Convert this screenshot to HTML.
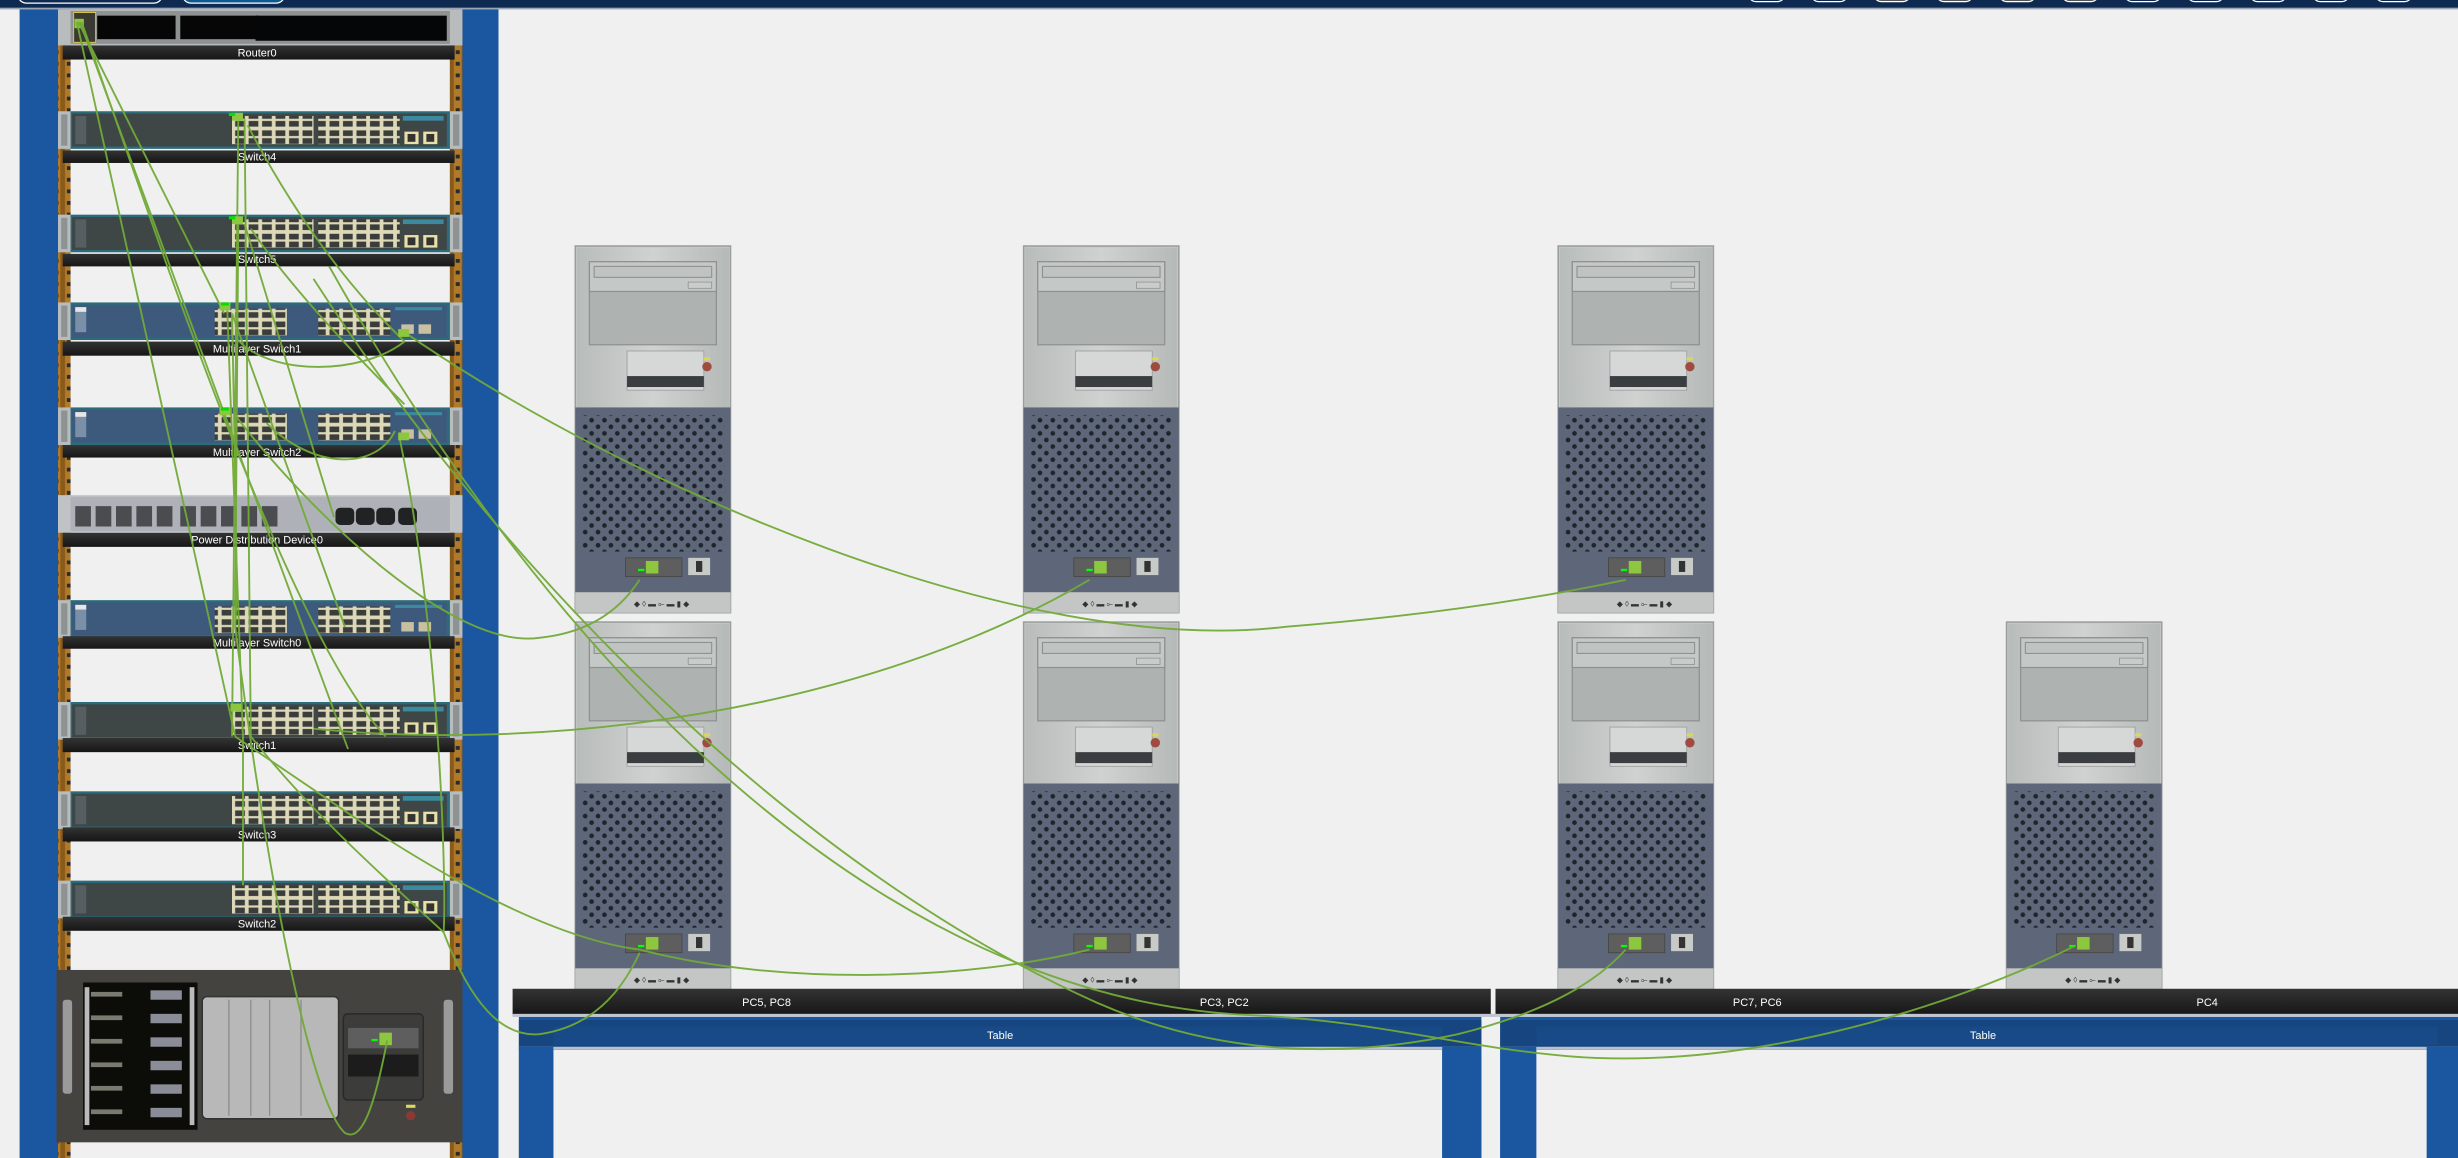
<!DOCTYPE html>
<html><head><meta charset="utf-8"><style>
html,body{margin:0;padding:0;background:#f0f0f0;overflow:hidden}
svg{display:block}
text{font-family:"Liberation Sans",sans-serif;fill:#fff;font-size:7px;text-anchor:middle}
</style></head><body>
<svg width="2458" height="1158" viewBox="0 0 1568 739" preserveAspectRatio="none" xmlns="http://www.w3.org/2000/svg">
<defs>
<pattern id="ports" width="8.6" height="11" patternUnits="userSpaceOnUse">
<rect width="8.6" height="11" fill="#ddd9b8"/>
<rect x="1.2" y="1.2" width="6.2" height="3.6" fill="#3a3d3c"/>
<rect x="1.2" y="6.2" width="6.2" height="3.6" fill="#3a3d3c"/>
</pattern>
<pattern id="grill" width="8.2" height="8.4" patternUnits="userSpaceOnUse">
<circle cx="2.2" cy="2" r="1.5" fill="#1f242b"/>
<circle cx="6.3" cy="6.2" r="1.5" fill="#1f242b"/>
</pattern>
<pattern id="rail" width="8" height="7.4" patternUnits="userSpaceOnUse">
<rect width="8" height="7.4" fill="#8a5a1a"/>
<rect x="1.5" width="5" height="7.4" fill="#b07a2a"/>
<rect x="2.7" y="2.5" width="2.6" height="2.4" fill="#2a2a2a"/>
</pattern>
<linearGradient id="lbl" x1="0" y1="0" x2="0" y2="1"><stop offset="0" stop-color="#333"/><stop offset="1" stop-color="#161616"/></linearGradient>
<linearGradient id="pcg" x1="0" y1="0" x2="1" y2="0"><stop offset="0" stop-color="#b8bcba"/><stop offset=".5" stop-color="#cfd2d0"/><stop offset="1" stop-color="#b5b9b7"/></linearGradient>
<g id="ear">
<rect x="0" y="0" width="8" height="24" fill="#b9bcbc"/><rect x="2" y="2" width="4" height="20" fill="#8e9292"/>
</g>
<g id="sw">
<use href="#ear"/><use href="#ear" x="250"/>
<rect x="8" y="0" width="242" height="24" fill="#2b6b7a"/>
<rect x="9" y="1.5" width="239" height="21" fill="#3f4646"/>
<rect x="11" y="3" width="7" height="18" fill="#555e60"/>
<rect x="111" y="3" width="52" height="18" fill="url(#ports)"/>
<rect x="166" y="3" width="52" height="18" fill="url(#ports)"/>
<rect x="221" y="13" width="9" height="8" fill="#e8e0a8"/><rect x="223" y="14.5" width="5" height="5" fill="#333"/>
<rect x="233" y="13" width="9" height="8" fill="#e8e0a8"/><rect x="235" y="14.5" width="5" height="5" fill="#333"/>
<rect x="220" y="3" width="26" height="3" fill="#3b8aa0"/>
</g>
<g id="ml">
<use href="#ear"/><use href="#ear" x="250"/>
<rect x="8" y="0" width="242" height="24" fill="#2b6b7a"/>
<rect x="9" y="1.5" width="239" height="21" fill="#3d5a7c"/>
<rect x="11" y="3" width="7" height="16" fill="#7a8fa8"/><rect x="11" y="3" width="7" height="3" fill="#e6e6e6"/>
<rect x="100" y="4" width="46" height="17" fill="url(#ports)"/>
<rect x="166" y="4" width="46" height="17" fill="url(#ports)"/>
<rect x="219" y="14" width="8" height="6" fill="#c8c0a0"/><rect x="230" y="14" width="8" height="6" fill="#c8c0a0"/>
<rect x="215" y="3" width="30" height="2" fill="#3b8aa0"/>
</g>
<g id="pc">
<rect x="0" y="0" width="99" height="234" fill="#c7cac8" stroke="#9a9e9c" stroke-width="1"/>
<rect x="1" y="1" width="97" height="102" fill="url(#pcg)"/>
<rect x="9" y="10" width="81" height="53" fill="#aeb3b1" stroke="#8d9290" stroke-width=".8"/>
<rect x="9" y="10" width="81" height="19" fill="#c4c8c6" stroke="#8d9290" stroke-width=".8"/>
<rect x="12" y="13" width="75" height="7" fill="#bfc3c1" stroke="#8d9290" stroke-width=".7"/>
<rect x="72" y="23" width="15" height="4" fill="#c9cccb" stroke="#8d9290" stroke-width=".5"/>
<rect x="33" y="67" width="49" height="25" fill="#d6d8d7" stroke="#999" stroke-width=".5"/>
<rect x="33" y="83" width="49" height="7" fill="#3a3e40"/>
<circle cx="84" cy="77" r="3" fill="#a04a40"/><rect x="82" y="71" width="4" height="2" fill="#d8d860"/>
<rect x="0" y="103" width="99" height="118" fill="#5d6779"/>
<rect x="4" y="108" width="91" height="87" fill="url(#grill)"/>
<rect x="32" y="199" width="36" height="12" fill="#5e5e5e" stroke="#444" stroke-width=".5"/>
<rect x="45" y="201" width="8" height="8" fill="#8dc63f"/><rect x="40" y="206" width="4" height="1.5" fill="#00ff00"/>
<rect x="72" y="199" width="14" height="11" fill="#c8cac8"/><rect x="77" y="201" width="4" height="7" fill="#333"/>
<rect x="0" y="221" width="99" height="13" fill="#c3c6c5"/>
<text x="55" y="230" style="fill:#333;font-size:5px">◆ ◊ ▬ ⟜ ▬ ▮ ◆</text>
</g>
</defs>

<rect x="0" y="0" width="1568" height="5" fill="#0f2a50"/>
<rect x="0" y="5" width="1568" height="1" fill="#9aa6b6"/>
<rect x="12" y="-6" width="91" height="8" rx="5" fill="#0f2a50" stroke="#fff" stroke-width=".8"/>
<rect x="117" y="-6" width="64" height="8" rx="5" fill="#0e5a90" stroke="#fff" stroke-width=".8"/>
<g fill="#0f2a50" stroke="#fff" stroke-width=".8">
<rect x="1116" y="-6" width="22" height="7" rx="4"/><rect x="1156" y="-6" width="22" height="7" rx="4"/><rect x="1196" y="-6" width="22" height="7" rx="4" fill="#555"/><rect x="1236" y="-6" width="22" height="7" rx="4" fill="#555"/><rect x="1276" y="-6" width="22" height="7" rx="4" fill="#555"/><rect x="1316" y="-6" width="22" height="7" rx="4" fill="#555"/><rect x="1356" y="-6" width="22" height="7" rx="4"/><rect x="1396" y="-6" width="22" height="7" rx="4"/><rect x="1436" y="-6" width="22" height="7" rx="4"/><rect x="1476" y="-6" width="22" height="7" rx="4"/><rect x="1516" y="-6" width="22" height="7" rx="4"/>
</g>

<rect x="12.5" y="6" width="305.5" height="733" fill="#1b57a0"/>
<rect x="45" y="6" width="242" height="733" fill="#f0f0f0"/>
<rect x="37" y="6" width="8" height="733" fill="url(#rail)"/>
<rect x="287" y="6" width="8" height="733" fill="url(#rail)"/>

<g>
<rect x="37" y="6" width="258" height="23" fill="#b9bcbc"/>
<rect x="45" y="7" width="242" height="21" fill="#8e9292"/>
<rect x="47" y="8" width="14" height="19" fill="#3a3a32" stroke="#d8c840" stroke-width=".6"/>
<rect x="47.5" y="12" width="6" height="6" fill="#8dc63f"/>
<rect x="62" y="10" width="50" height="15" fill="#060606"/>
<rect x="115" y="10" width="50" height="15" fill="#060606"/>
<rect x="163" y="10" width="122" height="16" fill="#040608"/>
</g>
<rect x="40" y="29" width="250" height="9" fill="url(#lbl)"/><text x="164" y="36">Router0</text>

<use href="#sw" x="37" y="71"/><rect x="40" y="96" width="250" height="8" fill="url(#lbl)"/><text x="164" y="102.5">Switch4</text>
<use href="#sw" x="37" y="137"/><rect x="40" y="162" width="250" height="8" fill="url(#lbl)"/><text x="164" y="168">Switch5</text>
<use href="#ml" x="37" y="193"/><rect x="40" y="218" width="250" height="9" fill="url(#lbl)"/><text x="164" y="225">Multilayer Switch1</text>
<use href="#ml" x="37" y="260"/><rect x="40" y="284" width="250" height="8" fill="url(#lbl)"/><text x="164" y="291">Multilayer Switch2</text>
<g>
<rect x="37" y="316" width="258" height="24" fill="#c0c3c6"/>
<rect x="45" y="317" width="242" height="22" fill="#aeb2b8"/>
<g fill="#4a4c50">
<rect x="48" y="323" width="10" height="13"/><rect x="61" y="323" width="10" height="13"/><rect x="74" y="323" width="10" height="13"/><rect x="87" y="323" width="10" height="13"/><rect x="100" y="323" width="10" height="13"/><rect x="115" y="323" width="10" height="13"/><rect x="128" y="323" width="10" height="13"/><rect x="141" y="323" width="10" height="13"/><rect x="154" y="323" width="10" height="13"/><rect x="167" y="323" width="10" height="13"/>
</g>
<g fill="#202224"><rect x="214" y="324" width="12" height="11" rx="3"/><rect x="227" y="324" width="12" height="11" rx="3"/><rect x="240" y="324" width="12" height="11" rx="3"/><rect x="254" y="324" width="12" height="11" rx="3"/></g>
</g>
<rect x="40" y="340" width="250" height="9" fill="url(#lbl)"/><text x="164" y="347">Power Distribution Device0</text>
<use href="#ml" x="37" y="383"/><rect x="40" y="406" width="250" height="8" fill="url(#lbl)"/><text x="164" y="412.5">Multilayer Switch0</text>
<use href="#sw" x="37" y="448"/><rect x="40" y="471" width="250" height="9" fill="url(#lbl)"/><text x="164" y="478">Switch1</text>
<use href="#sw" x="37" y="505"/><rect x="40" y="528" width="250" height="9" fill="url(#lbl)"/><text x="164" y="535">Switch3</text>
<use href="#sw" x="37" y="562"/><rect x="40" y="585" width="250" height="9" fill="url(#lbl)"/><text x="164" y="592">Switch2</text>

<g>
<rect x="36" y="619" width="259" height="110" fill="#444340"/>
<rect x="40" y="638" width="6" height="60" rx="2" fill="#9a9a9a"/><rect x="283" y="638" width="6" height="60" rx="2" fill="#9a9a9a"/>
<rect x="53" y="627" width="73" height="94" fill="#0c0c08"/>
<g fill="#7a7a70"><rect x="58" y="633" width="20" height="3"/><rect x="58" y="648" width="20" height="3"/><rect x="58" y="663" width="20" height="3"/><rect x="58" y="678" width="20" height="3"/><rect x="58" y="693" width="20" height="3"/><rect x="58" y="708" width="20" height="3"/></g>
<g fill="#8a8c98"><rect x="96" y="632" width="20" height="6"/><rect x="96" y="647" width="20" height="6"/><rect x="96" y="662" width="20" height="6"/><rect x="96" y="677" width="20" height="6"/><rect x="96" y="692" width="20" height="6"/><rect x="96" y="707" width="20" height="6"/></g>
<rect x="54" y="630" width="3" height="88" fill="#bbb"/><rect x="121" y="630" width="3" height="88" fill="#bbb"/>
<rect x="129" y="636" width="87" height="78" rx="3" fill="#b8b8b8" stroke="#333" stroke-width="1"/>
<g stroke="#8a8a8a" stroke-width=".8"><line x1="146" y1="638" x2="146" y2="712"/><line x1="160" y1="638" x2="160" y2="712"/><line x1="172" y1="638" x2="172" y2="712"/><line x1="192" y1="638" x2="192" y2="712"/></g>
<rect x="219" y="647" width="51" height="55" rx="3" fill="#3c3c3a" stroke="#2a2a2a"/>
<rect x="222" y="656" width="45" height="13" fill="#5e5e5e"/>
<rect x="242" y="659" width="8" height="8" fill="#8dc63f"/><rect x="237" y="663" width="4" height="1.5" fill="#00ff00"/>
<rect x="222" y="673" width="45" height="14" fill="#1c1c1c"/>
<rect x="259" y="705" width="6" height="2" fill="#d8d860"/><circle cx="262" cy="712" r="3" fill="#8a3a34"/>
</g>

<use href="#pc" x="367" y="157"/><use href="#pc" x="653" y="157"/><use href="#pc" x="994" y="157"/>
<use href="#pc" x="367" y="397"/><use href="#pc" x="653" y="397"/><use href="#pc" x="994" y="397"/><use href="#pc" x="1280" y="397"/>

<rect x="331" y="648" width="614" height="91" fill="#1b57a0"/>
<rect x="353" y="670" width="567" height="69" fill="#f0f0f0"/>
<rect x="331" y="651" width="614" height="19" fill="#16457f"/>
<rect x="353" y="655" width="567" height="12" fill="#174a86"/>
<rect x="957" y="648" width="611" height="91" fill="#1b57a0"/>
<rect x="980" y="670" width="588" height="69" fill="#f0f0f0"/>
<rect x="957" y="651" width="611" height="19" fill="#16457f"/>
<rect x="980" y="655" width="575" height="12" fill="#174a86"/>
<rect x="331" y="668" width="614" height="2" fill="#b8c0cc"/><rect x="957" y="668" width="611" height="2" fill="#b8c0cc"/>
<rect x="920" y="668" width="25" height="71" fill="#1b57a0"/><rect x="331" y="668" width="22" height="71" fill="#1b57a0"/>
<rect x="957" y="668" width="23" height="71" fill="#1b57a0"/><rect x="1548" y="668" width="20" height="71" fill="#1b57a0"/>
<text x="638" y="663">Table</text><text x="1265" y="663">Table</text>
<rect x="327" y="631" width="624" height="17" fill="url(#lbl)"/>
<rect x="954" y="631" width="614" height="17" fill="url(#lbl)"/>
<rect x="327" y="647" width="1241" height="2" fill="#c0c6d0"/>
<text x="489" y="642">PC5, PC8</text><text x="781" y="642">PC3, PC2</text><text x="1121" y="642">PC7, PC6</text><text x="1408" y="642">PC4</text>

<g fill="none" stroke="#72aa38" stroke-width="1.2" opacity=".95">
<path d="M49,14 L150,470"/>
<path d="M50,14 L143,200"/>
<path d="M51,14 L222,478"/>
<path d="M52,14 C 90,120 180,400 246,470"/>
<path d="M152,76 L148,470"/>
<path d="M156,76 L160,470"/>
<path d="M158,80 C 200,160 240,200 258,218"/>
<path d="M152,143 L150,400"/>
<path d="M156,143 L213,330"/>
<path d="M160,146 C 190,190 240,240 258,258"/>
<path d="M145,198 L155,470"/>
<path d="M148,200 L220,400"/>
<path d="M258,212 C 400,310 650,420 820,400 C 920,392 990,380 1037,370"/>
<path d="M258,218 C 230,240 170,240 150,215"/>
<path d="M252,275 C 240,300 200,300 170,270"/>
<path d="M150,265 C 200,330 290,415 344,407 C 375,404 395,390 408,370"/>
<path d="M200,465 C 350,480 550,455 695,370"/>
<path d="M210,170 C 350,420 560,640 802,648 C 880,652 930,668 1000,674 C 1120,684 1250,640 1323,604"/>
<path d="M200,178 C 330,380 520,560 700,640 C 780,675 860,675 930,660 C 990,645 1020,625 1037,606"/>
<path d="M234,527 C 300,570 360,600 408,606 C 500,630 620,625 695,606"/>
<path d="M283,595 C 300,640 320,662 344,660 C 380,655 398,630 408,608"/>
<path d="M255,280 C 280,400 285,560 283,595"/>
<path d="M150,470 L234,527"/>
<path d="M155,470 L155,565"/>
<path d="M247,664 C 240,700 232,730 220,723 C 195,700 165,520 150,400"/>
<path d="M148,200 C 150,300 152,380 150,400"/>
<path d="M160,470 C 200,520 240,555 283,595"/>
</g>
<g fill="#8dc63f">
<rect x="148" y="72" width="7" height="5"/><rect x="148" y="138" width="7" height="5"/><rect x="140" y="193" width="7" height="5"/><rect x="140" y="260" width="7" height="5"/><rect x="147" y="449" width="7" height="5"/>
<rect x="254" y="210" width="7" height="5"/><rect x="254" y="276" width="7" height="5"/>
</g>
<g fill="#00e000"><rect x="146" y="72" width="4" height="2"/><rect x="146" y="138" width="4" height="2"/><rect x="141" y="193" width="5" height="2"/><rect x="141" y="260" width="5" height="2"/></g>
</svg>
</body></html>
